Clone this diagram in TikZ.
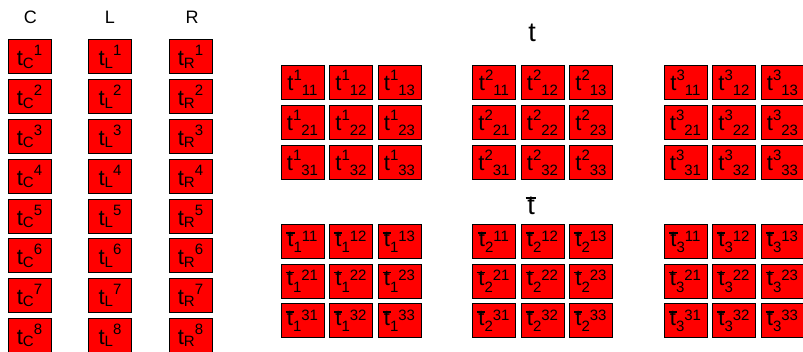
\documentclass[tikz,border=0pt]{standalone}
\usepackage{fontspec}
\setmainfont{Liberation Sans}
\usepackage{tikz}

\tikzset{
  cell/.style={draw=black, line width=1pt, fill=red, minimum width=43pt,
    minimum height=34pt, inner sep=0pt},
  topcell/.style={cell, text height=25pt, text depth=9pt},
  botcell/.style={cell, text height=21.4pt, text depth=12.6pt},
  colcell/.style={cell, text height=26pt, text depth=8pt},
  head/.style={anchor=base, inner sep=0pt, font=\fontsize{18}{18}\selectfont},
  title/.style={anchor=base, inner sep=0pt, font=\fontsize{27}{27}\selectfont}
}
\newcommand{\bigsz}{\fontsize{22}{22}\selectfont}
\newcommand{\lilsz}{\fontsize{15}{15}\selectfont}
% t with a bar on top of its stem
\newcommand{\tstroke}{\makebox[0pt][l]{\hspace{-0.06em}\rule[0.58em]{0.38em}{0.07em}}t}
\newcommand{\tmat}[2]{\bigsz t\raisebox{10pt}{\lilsz #1}\raisebox{-5pt}{\lilsz #2}}
\newcommand{\tbar}[2]{\bigsz \tstroke\raisebox{-6.3pt}{\lilsz #1}\raisebox{5pt}{\lilsz #2}}
\newcommand{\tcol}[2]{\bigsz t\raisebox{-2.3pt}{\lilsz #1}\raisebox{10pt}{\lilsz #2}}

\begin{document}
\begin{tikzpicture}[x=1pt,y=1pt]
      \useasboundingbox (0,0) rectangle (803,-352);

      % Column headers
      \node[head] (hc) at (30.3,-23.3) {C};
      \node[head] (hl) at (110,-23.3) {L};
      \node[head] (hr) at (192,-23.3) {R};

      % Columns C, L, R
      \foreach \i in {1,...,8} {
          \node[colcell] (c\i) at (29.5,{-57-39.76*(\i-1)}) {\tcol{C}{\i}};
          \node[colcell] (l\i) at (110,{-57-39.76*(\i-1)}) {\tcol{L}{\i}};
          \node[colcell] (r\i) at (190.5,{-57-39.76*(\i-1)}) {\tcol{R}{\i}};
      }

      % Titles
      \node[title] (tt) at (532,-41.7) {t};
      \node[title] (tb) at (531,-215) {\tstroke};

      % Matrices t^k and tbar_k
      \foreach \k in {1,2,3} {
          \foreach \i in {1,2,3} {
              \foreach \j in {1,2,3} {
                  \node[topcell] (t\k-\i\j) at ({302.5+191.5*(\k-1)+48.5*(\j-1)},{-83-39.75*(\i-1)}) {\tmat{\k}{\i\j}};
                  \node[botcell] (b\k-\i\j) at ({302.5+191.5*(\k-1)+48.5*(\j-1)},{-242-39.5*(\i-1)}) {\tbar{\k}{\i\j}};
              }
          }
      }

  \end{tikzpicture}
\end{document}
